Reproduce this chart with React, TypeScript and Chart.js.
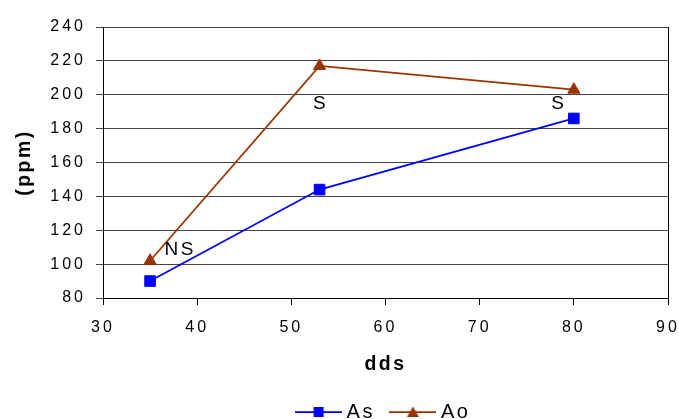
import React, { useEffect, useRef } from 'react';
import { Chart, registerables } from 'chart.js';

Chart.register(...registerables);

// ---- data ----
const xValues: number[] = [35, 53, 80];
const asValues: number[] = [90, 144, 186];
const aoValues: number[] = [102, 217, 203];
const seriesNames: string[] = ['As', 'Ao'];
const xTitle = 'dds';
const yTitle = '(ppm)';
const noteTexts: string[] = ['NS', 'S', 'S'];
const noteX: number[] = [38.1, 53, 78.3];
const noteY: number[] = [108.4, 194.5, 194.5];

const FONT = '"Liberation Sans", Arial, sans-serif';
const BLUE = '#0000FF';
const BROWN = '#993300';

function makeLegendImage(color: string, kind: 'rect' | 'triangle'): HTMLCanvasElement {
  const c = document.createElement('canvas');
  c.width = 47;
  c.height = 14;
  const g = c.getContext('2d')!;
  g.strokeStyle = color;
  g.lineWidth = 1.75;
  g.beginPath();
  g.moveTo(0, 7);
  g.lineTo(47, 7);
  g.stroke();
  g.fillStyle = color;
  if (kind === 'rect') {
    g.fillRect(23.5 - 5, 7 - 5, 10, 10);
  } else {
    g.beginPath();
    g.moveTo(23.5, 1.5);
    g.lineTo(29.5, 12);
    g.lineTo(17.5, 12);
    g.closePath();
    g.fill();
  }
  return c;
}

// letter spacing depending on the font size in use (Excel-like wide text)
function applySpacing(ctx: any) {
  const m = /(\d+(?:\.\d+)?)px/.exec(ctx.font);
  const size = m ? parseFloat(m[1]) : 12;
  ctx.letterSpacing = size < 17 ? '3px' : '2.5px';
}

const spacingPlugin = {
  id: 'letterSpacing',
  beforeInit(chart: any) {
    const ctx = chart.ctx;
    const ft = ctx.fillText.bind(ctx);
    const mt = ctx.measureText.bind(ctx);
    ctx.fillText = (t: string, x: number, y: number, w?: number) => {
      applySpacing(ctx);
      return w === undefined ? ft(t, x, y) : ft(t, x, y, w);
    };
    ctx.measureText = (t: string) => {
      applySpacing(ctx);
      return mt(t);
    };
  },
};

const borderPlugin = {
  id: 'rightBorder',
  afterDraw(chart: any) {
    const { ctx, chartArea } = chart;
    ctx.save();
    ctx.strokeStyle = '#000';
    ctx.lineWidth = 1;
    const x = Math.round(chartArea.right) + 0.5;
    ctx.beginPath();
    ctx.moveTo(x, chartArea.top);
    ctx.lineTo(x, chartArea.bottom);
    ctx.stroke();
    ctx.restore();
  },
};

const notesPlugin = {
  id: 'notes',
  afterDatasetsDraw(chart: any) {
    const { ctx } = chart;
    const xs = chart.scales.x;
    const ys = chart.scales.y;
    ctx.save();
    ctx.font = `19px ${FONT}`;
    ctx.fillStyle = '#000';
    ctx.textAlign = 'center';
    ctx.textBaseline = 'middle';
    noteTexts.forEach((t, i) => {
      ctx.fillText(t, xs.getPixelForValue(noteX[i]) + 1, ys.getPixelForValue(noteY[i]));
    });
    ctx.restore();
  },
};

export default function App() {
  const ref = useRef<HTMLCanvasElement | null>(null);

  useEffect(() => {
    if (!ref.current) return;
    const legendImages = [makeLegendImage(BLUE, 'rect'), makeLegendImage(BROWN, 'triangle')];
    const chart = new Chart(ref.current, {
      type: 'line',
      data: {
        datasets: [
          {
            label: seriesNames[0],
            data: xValues.map((x, i) => ({ x, y: asValues[i] })),
            borderColor: BLUE,
            backgroundColor: BLUE,
            borderWidth: 1.75,
            pointStyle: 'rect',
            pointRadius: 7.5,
            pointBorderWidth: 1,
            tension: 0,
          },
          {
            label: seriesNames[1],
            data: xValues.map((x, i) => ({ x, y: aoValues[i] })),
            borderColor: BROWN,
            backgroundColor: BROWN,
            borderWidth: 1.75,
            pointStyle: 'triangle',
            pointRadius: 7,
            pointBorderWidth: 1,
            tension: 0,
          },
        ],
      },
      options: {
        animation: false,
        responsive: true,
        maintainAspectRatio: false,
        font: { family: FONT },
        layout: { padding: { top: 27, right: 11, left: 0, bottom: 0 } },
        scales: {
          x: {
            type: 'linear',
            min: 30,
            max: 90,
            ticks: { stepSize: 10, padding: 13, color: '#000', font: { size: 16, family: FONT } },
            grid: { drawOnChartArea: false, drawTicks: true, tickLength: 7, color: '#000' },
            border: { color: '#000', width: 1 },
            title: {
              display: true,
              text: xTitle,
              color: '#000',
              font: { size: 19.5, weight: 'bold', family: FONT },
              padding: { top: 0, bottom: 6 },
            },
            afterFit: (s: any) => {
              s.height = 84;
              s.paddingLeft = 0;
              s.paddingRight = 0;
            },
          },
          y: {
            type: 'linear',
            min: 80,
            max: 240,
            ticks: { stepSize: 20, padding: 10, color: '#000', font: { size: 16, family: FONT } },
            grid: { color: '#444', tickLength: 7 },
            border: { color: '#000', width: 1 },
            title: {
              display: true,
              text: yTitle,
              color: '#000',
              font: { size: 19.5, weight: 'bold', family: FONT },
              padding: { top: 13, bottom: 0 },
            },
            afterFit: (s: any) => {
              s.width = 103;
              s.paddingTop = 0;
              s.paddingBottom = 0;
            },
          },
        },
        plugins: {
          tooltip: { enabled: false },
          legend: {
            position: 'bottom',
            fullSize: false,
            labels: {
              usePointStyle: true,
              pointStyleWidth: 36,
              padding: 20,
              color: '#000',
              font: { size: 20, family: FONT },
              generateLabels: (ch: any) => {
                const items = Chart.defaults.plugins.legend.labels.generateLabels(ch);
                items.forEach((it: any, i: number) => {
                  it.pointStyle = legendImages[i];
                });
                return items;
              },
            },
          },
        },
      } as any,
      plugins: [spacingPlugin, borderPlugin, notesPlugin],
    });
    return () => chart.destroy();
  }, []);

  return (
    <div style={{ position: 'absolute', left: 0, top: 0, width: 679, height: 419, overflow: 'hidden', background: '#fff' }}>
      <div style={{ position: 'relative', width: 679, height: 432 }}>
        <canvas ref={ref} />
      </div>
    </div>
  );
}
